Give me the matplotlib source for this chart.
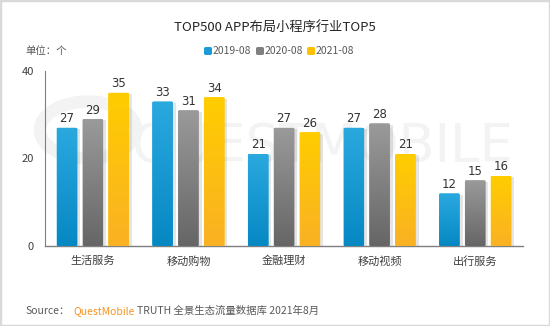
import matplotlib
matplotlib.use("Agg")
import matplotlib.pyplot as plt
import numpy as np
from matplotlib.patches import FancyBboxPatch, Rectangle, Circle
from matplotlib.colors import LinearSegmentedColormap

plt.rcParams['font.family'] = ['Noto Sans CJK SC', 'DejaVu Sans']

categories = ["生活服务", "移动购物", "金融理财", "移动视频", "出行服务"]
series_names = ["2019-08", "2020-08", "2021-08"]
v2019 = [27, 33, 21, 27, 12]
v2020 = [29, 31, 27, 28, 15]
v2021 = [35, 34, 26, 21, 16]
yticks = [0, 20, 40]

title = "TOP500 APP布局小程序行业TOP5"
unit = "单位：个"

colors_top = ["#2aa9df", "#9a9a9a", "#ffcd00"]
colors_bot = ["#0688c3", "#666666", "#fab124"]
colors_legend = ["#1a9ad6", "#808080", "#ffc000"]

W, H = 550, 326
fig = plt.figure(figsize=(5.5, 3.26), dpi=100)
fig.patch.set_facecolor("white")
fig.add_artist(Rectangle((0, 0), 1, 1, transform=fig.transFigure, fill=False,
                         edgecolor="#d9d9d9", linewidth=2.5))

ax = fig.add_axes([45/W, 1-246/H, (523-45)/W, (246-71)/H])
ax.set_xlim(-0.5, 4.5)
ax.set_ylim(0, 40)
ax.set_facecolor("none")

# watermark (below bars)
ax.add_patch(Circle((88/W, 1-130/H), 48/W, transform=fig.transFigure, fill=False,
                    edgecolor="#f3f3f3", linewidth=9, zorder=0, clip_on=False))
ax.text(322/W, 1-147/H, "QUESTMOBILE", fontsize=38, color="#f3f3f3", ha="center", va="center",
        zorder=0, family="DejaVu Sans", transform=fig.transFigure, clip_on=False)

series = [v2019, v2020, v2021]
offsets = [-0.27, 0, 0.27]
bw = 0.215
x = np.arange(len(categories))
for si, vals in enumerate(series):
    cmap = LinearSegmentedColormap.from_list("g", [colors_bot[si], colors_top[si]])
    for xi, v in zip(x, vals):
        xc = xi + offsets[si]
        sh = Rectangle((xc - bw/2 + 0.03, 0), bw, v - 0.3, facecolor="#000000", alpha=0.10,
                       edgecolor="none", zorder=1)
        ax.add_patch(sh)
        bar = FancyBboxPatch((xc - bw/2, 0), bw, v, boxstyle="round,pad=0,rounding_size=0.02",
                             mutation_aspect=10, facecolor=colors_top[si], edgecolor="none", zorder=2)
        ax.add_patch(bar)
        grad = np.linspace(0, 1, 100).reshape(-1, 1)
        im = ax.imshow(grad, cmap=cmap, extent=(xc - bw/2, xc + bw/2, 0, v), origin="lower",
                       aspect="auto", zorder=3)
        im.set_clip_path(bar)
        ax.text(xc, v + 0.6, str(v), ha="center", va="bottom", fontsize=8.5, color="#333333",
                family="DejaVu Sans", zorder=4)

ax.set_xlim(-0.5, 4.5)
ax.set_ylim(0, 40)
ax.set_xticks(x)
ax.set_xticklabels(categories, fontsize=8, color="#404040")
ax.set_yticks(yticks)
ax.set_yticklabels([str(t) for t in yticks], fontsize=8, color="#404040")
ax.tick_params(length=0, pad=8)
ax.tick_params(axis="x", pad=7)
for s in ["top", "right"]:
    ax.spines[s].set_visible(False)
ax.spines["left"].set_color("#7f7f7f")
ax.spines["bottom"].set_color("#7f7f7f")
ax.spines["left"].set_linewidth(0.8)
ax.spines["bottom"].set_linewidth(1.0)

fig.text(275/W, 1-27/H, title, ha="center", va="center", fontsize=9.5, color="#262626")
fig.text(25/W, 1-51/H, unit, ha="left", va="center", fontsize=7.5, color="#595959")

lx = [204, 256, 307]
for i, name in enumerate(series_names):
    fig.add_artist(FancyBboxPatch((lx[i]/W, 1-55/H), 8/W, 8/H,
                                  boxstyle="round,pad=0,rounding_size=0.004",
                                  transform=fig.transFigure, facecolor=colors_legend[i],
                                  edgecolor="none"))
    fig.text((lx[i]+9)/W, 1-51/H, name, ha="left", va="center", fontsize=7.5, color="#595959")

sy = 1 - 311/H
t1 = fig.text(25/W, sy, "Source：", ha="left", va="center", fontsize=7.5, color="#595959")
fig.canvas.draw()
r = fig.canvas.get_renderer()
bb = t1.get_window_extent(r)
t2 = fig.text((bb.x1 + 4)/W, sy, "QuestMobile", ha="left", va="center", fontsize=7.5, color="#f7931e")
bb2 = t2.get_window_extent(r)
fig.text((bb2.x1 + 2)/W, sy, "TRUTH 全景生态流量数据库 2021年8月", ha="left", va="center",
         fontsize=7.5, color="#595959")

fig.savefig("out.png", dpi=100)
